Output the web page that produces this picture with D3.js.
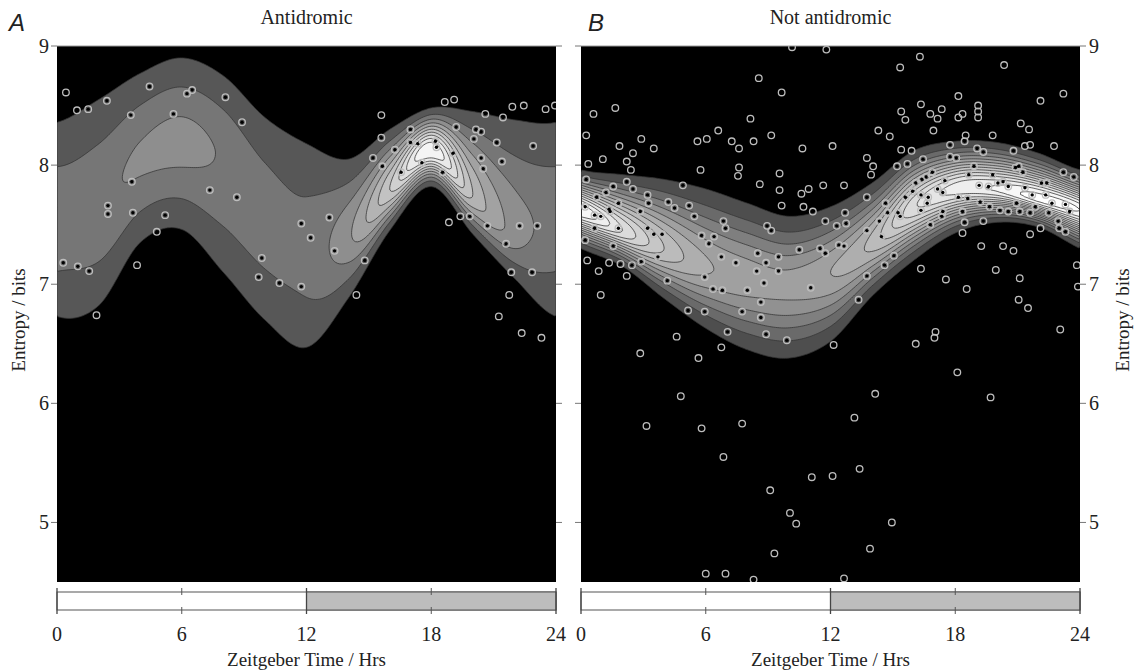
<!DOCTYPE html>
<html><head><meta charset="utf-8">
<script src="https://cdn.jsdelivr.net/npm/d3@7"></script>
<style>body{margin:0;background:#fff}svg{display:block}</style>
</head><body>
<svg id="c" width="1136" height="671"></svg>
<script>
// ---------- data ----------
const timeTicks = [0, 6, 12, 18, 24];
const entropyTicks = [5, 6, 7, 8, 9];
const panelTitles = ["Antidromic", "Not antidromic"];
const panelLetters = ["A", "B"];
// ridge knots every 2 h (0..22): peak entropy, upper/lower edge of lowest contour, peak height (contour levels)
const knotHours = [0, 2, 4, 6, 8, 10, 12, 14, 16, 18, 20, 22];
const peakA   = [7.55, 7.68, 8.05, 8.20, 8.05, 7.60, 7.30, 7.40, 7.80, 8.12, 7.75, 7.45];
const topA    = [8.36, 8.55, 8.77, 8.90, 8.75, 8.40, 8.18, 8.05, 8.30, 8.48, 8.45, 8.38];
const botA    = [6.73, 6.82, 7.35, 7.46, 7.10, 6.70, 6.47, 6.88, 7.45, 7.82, 7.42, 7.05];
const heightA = [2.66, 2.80, 3.15, 3.33, 2.92, 2.60, 2.50, 3.80, 7.00, 11.0, 6.00, 3.60];
const peakB   = [7.62, 7.45, 7.30, 7.15, 7.05, 7.00, 7.10, 7.35, 7.65, 7.80, 7.80, 7.72];
const topB    = [7.96, 7.92, 7.88, 7.80, 7.68, 7.57, 7.65, 7.85, 8.12, 8.20, 8.19, 8.10];
const botB    = [7.30, 7.15, 6.88, 6.63, 6.45, 6.38, 6.52, 6.90, 7.20, 7.43, 7.52, 7.48];
const heightB = [14.0, 11.0, 8.00, 6.20, 5.60, 5.40, 6.00, 7.40, 10.8, 12.5, 13.2, 14.5];
const levelsA = 11, levelsB = 14;

const pointsA = [[0.43,8.61],[0.96,8.46],[1.5,8.47],[2.4,8.54],[3.55,8.42],[4.45,8.66],[5.6,8.43],[6.25,8.6],[6.5,8.63],[8.1,8.57],[8.9,8.36],[3.6,7.86],[7.35,7.79],[8.65,7.73],
[0.3,7.18],[1.0,7.15],[1.55,7.11],[2.45,7.66],[2.45,7.59],[3.65,7.6],[3.85,7.16],[1.9,6.74],[4.8,7.44],[5.2,7.58],[9.85,7.22],[9.7,7.06],[10.7,7.01],[11.75,6.98],[11.75,7.51],[12.2,7.39],[13.1,7.56],[13.35,7.28],
[18.65,8.53],[15.6,8.42],[15.6,8.23],[15.2,8.06],[15.65,7.99],[16.25,8.13],[17.0,8.3],[17.0,8.19],[17.35,8.18],[16.55,7.94],[17.55,8.02],[18.2,8.2],[18.25,8.15],[18.55,7.94],[19.05,8.1],[19.2,8.32],[20.15,8.3],[20.4,8.28],[20.05,8.22],[20.4,8.06],[20.5,7.97],[21.15,8.19],[21.4,8.03],[20.6,8.43],[21.45,8.4],[21.9,8.49],[22.45,8.5],[23.5,8.47],[23.95,8.5],[22.9,8.16],[18.85,7.52],[19.4,7.57],[19.85,7.57],[20.7,7.49],[22.25,7.49],[23.1,7.49],[21.6,7.34],[21.85,7.1],[22.85,7.1],[21.75,6.91],[21.25,6.73],[22.35,6.59],[23.3,6.55],[14.4,6.91],[14.8,7.2],[19.1,8.55]];

const pointsB = [[10.15,8.99],[11.8,8.97],[8.55,8.73],[9.65,8.61],[1.65,8.48],[0.6,8.43],[8.15,8.39],[0.25,8.25],[2.9,8.22],[1.85,8.16],[2.5,8.1],[3.5,8.14],[6.6,8.29],[5.6,8.2],[6.05,8.22],[7.25,8.2],[8.3,8.2],[9.15,8.25],[7.6,8.14],[10.65,8.14],[12.1,8.16],[13.75,8.06],[1.05,8.05],[0.35,8.01],[2.2,8.03],[2.4,7.96],[5.75,7.96],[7.6,7.98],[7.55,7.91],[9.55,7.93],[8.6,7.84],[9.55,7.79],[10.6,7.76],[10.95,7.8],[11.65,7.83],[12.65,7.83],[4.9,7.83],[2.2,7.86],[2.5,7.8],[0.25,7.88],[1.55,7.82],[3.2,7.75],[3.25,7.68],[4.2,7.69],[4.5,7.64],[5.2,7.66],[5.45,7.57],[6.85,7.53],[9.65,7.66],[10.7,7.65],[11.15,7.61],[12.7,7.6],[11.75,7.53],[13.75,7.73],[0.75,7.73],[1.2,7.77],[1.8,7.68],[0.65,7.58],[0.95,7.57],[1.4,7.61],[2.85,7.61],
[6.95,7.47],[8.95,7.49],[9.15,7.45],[0.65,7.47],[3.2,7.47],[3.5,7.42],[3.9,7.42],[3.7,7.23],[5.8,7.41],[6.15,7.34],[6.4,7.4],[6.75,7.23],[5.95,7.06],[6.35,6.96],[6.8,6.95],[7.45,7.18],[8.0,6.95],[8.5,7.26],[8.9,7.18],[8.45,7.11],[8.8,7.01],[9.5,7.23],[9.5,7.11],[10.5,7.29],[11.05,6.97],
[0.3,7.2],[0.85,7.11],[1.35,7.18],[1.9,7.17],[2.45,7.16],[2.9,7.19],[2.2,7.07],[0.95,6.91],[4.15,7.03],[1.55,7.32],[0.2,7.37],[1.35,7.63],[1.8,7.47],[0.2,7.65],
[12.75,7.51],[12.3,7.49],[13.75,7.45],[11.5,7.3],[11.75,7.26],[12.4,7.33],[12.65,7.32],[13.75,7.07],[13.35,6.87],[5.15,6.78],[5.95,6.77],[7.75,6.77],[8.65,6.72],[8.65,6.85],[7.05,6.6],[8.9,6.58],[9.9,6.53],[4.6,6.56],[2.85,6.42],[5.65,6.38],[6.75,6.47],[12.15,6.49],[4.8,6.06],
[14.15,6.08],[19.7,6.05],[3.15,5.81],[5.8,5.79],[7.75,5.83],[13.15,5.88],[6.85,5.55],[13.4,5.45],[11.1,5.38],[12.1,5.39],[9.1,5.27],[10.05,5.08],[10.35,4.99],[14.95,5.0],[13.9,4.78],[9.3,4.74],[6.0,4.57],[6.95,4.57],[8.3,4.52],[12.65,4.53],
[16.3,8.91],[15.35,8.82],[20.35,8.84],[18.15,8.58],[23.2,8.6],[22.1,8.54],[16.35,8.51],[15.4,8.45],[16.8,8.43],[17.35,8.47],[15.6,8.38],[17.15,8.39],[18.15,8.4],[18.35,8.43],[19.1,8.5],[19.1,8.45],[19.1,8.4],[21.15,8.35],[21.55,8.3],[14.3,8.29],[14.85,8.24],[16.95,8.29],[18.5,8.25],[18.45,8.2],[19.8,8.25],[15.4,8.13],[15.9,8.12],[17.75,8.17],[20.8,8.12],[21.35,8.16],[21.6,8.17],[22.75,8.16],[14.05,7.99],[13.95,7.92],[15.2,7.99],[15.7,8.01],[16.45,8.05],[17.75,8.07],[18.05,8.06],[19.05,8.14],[19.35,8.11],[20.9,7.98],[21.05,7.99],[23.2,7.94],[23.7,7.9],
[16.1,7.85],[16.6,7.9],[16.9,7.94],[17.5,7.87],[18.65,7.92],[18.9,7.99],[19.8,7.92],[20.3,7.86],[20.55,7.82],[20.05,7.85],[19.6,7.82],[19.15,7.83],[21.25,7.94],[22.15,7.85],[22.4,7.85],[21.35,7.81],[21.7,7.75],[22.35,7.75],[23.3,7.67],[23.5,7.61],[22.65,7.68],[21.85,7.65],[20.95,7.68],[21.1,7.61],[20.15,7.62],[19.65,7.65],[19.2,7.69],[18.6,7.72],[18.15,7.73],[17.4,7.77],[17.15,7.8],[16.7,7.73],[16.35,7.75],[15.95,7.78],[15.6,7.73],[16.65,7.68],[16.35,7.62],[15.25,7.6],[15.35,7.57],[14.65,7.68],[14.35,7.53],[17.4,7.61],[17.35,7.57],[16.8,7.5],[18.35,7.61],[18.45,7.52],[18.35,7.43],[19.35,7.53],[20.55,7.61],[21.6,7.6],[22.5,7.6],[22.95,7.53],[23.0,7.47],[21.6,7.42],[22.1,7.47],[23.3,7.44],
[19.25,7.32],[20.3,7.32],[20.8,7.28],[23.85,7.16],[16.35,7.13],[19.95,7.12],[21.1,7.05],[17.55,7.04],[18.55,6.96],[23.9,6.98],[21.05,6.87],[21.5,6.8],[14.45,7.4],[14.75,7.6],[15.05,7.24],[14.6,7.16],[16.4,7.88],
[17.0,6.55],[17.05,6.6],[16.1,6.5],[18.1,6.26],[23.05,6.62]];

// ---------- layout ----------
const svg = d3.select("#c");
const plotTop = 46, plotBottom = 582;
const panels = [
  {x0: 57, x1: 556, peak: peakA, up: topA, lo: botA, h: heightA, N: levelsA, pts: pointsA, labelsLeft: true},
  {x0: 581, x1: 1080, peak: peakB, up: topB, lo: botB, h: heightB, N: levelsB, pts: pointsB, labelsLeft: false}
];
const serif = "'Liberation Serif','Times New Roman',serif";

function periodic(vals, t) {
  const n = vals.length, h = 24 / n;
  const u = (((t % 24) + 24) % 24) / h;
  const i = Math.floor(u), f = u - i;
  const p0 = vals[(i - 1 + n) % n], p1 = vals[i % n], p2 = vals[(i + 1) % n], p3 = vals[(i + 2) % n];
  return 0.5 * (2 * p1 + (-p0 + p2) * f + (2 * p0 - 5 * p1 + 4 * p2 - p3) * f * f + (-p0 + 3 * p1 - 3 * p2 + p3) * f * f * f);
}

panels.forEach((P, pi) => {
  const x = d3.scaleLinear().domain([0, 24]).range([P.x0, P.x1]);
  const y = d3.scaleLinear().domain([4.5, 9]).range([plotBottom, plotTop]);
  const g = svg.append("g");
  const clipId = "clip" + pi;
  svg.append("clipPath").attr("id", clipId).append("rect")
    .attr("x", P.x0).attr("y", plotTop).attr("width", P.x1 - P.x0).attr("height", plotBottom - plotTop);
  g.append("rect").attr("x", P.x0).attr("y", plotTop).attr("width", P.x1 - P.x0).attr("height", plotBottom - plotTop).attr("fill", "#000");

  // field grid
  const nx = 250, ny = 240;
  const values = new Float64Array(nx * ny);
  for (let i = 0; i < nx; i++) {
    const t = (i + 0.5) / nx * 24;
    const m = periodic(P.peak, t), a = Math.max(1.01, periodic(P.h, t));
    const k = Math.sqrt(2 * Math.log(a));
    const su = Math.max(0.03, (periodic(P.up, t) - m) / k);
    const sd = Math.max(0.03, (m - periodic(P.lo, t)) / k);
    for (let j = 0; j < ny; j++) {
      const v = 9 - (j + 0.5) / ny * 4.5;
      const s = v > m ? su : sd;
      values[j * nx + i] = a * Math.exp(-0.5 * ((v - m) / s) ** 2);
    }
  }
  const thresholds = d3.range(1, P.N + 1);
  const contours = d3.contours().size([nx, ny]).thresholds(thresholds)(values);
  const proj = d3.geoTransform({point: function(px, py) {
    this.stream.point(x(px / nx * 24), y(9 - py / ny * 4.5));
  }});
  const path = d3.geoPath(proj);
  const gray = k => { const c = Math.round(255 * Math.min(1, Math.pow(k / P.N, 0.45))); return d3.rgb(c, c, c).toString(); };
  const cg = g.append("g").attr("clip-path", `url(#${clipId})`);
  cg.selectAll("path.f").data(contours).join("path").attr("class", "f")
    .attr("d", path).attr("fill", d => gray(d.value)).attr("stroke", "none");
  cg.selectAll("path.l").data(contours).join("path").attr("class", "l")
    .attr("d", path).attr("fill", "none").attr("stroke", "#333").attr("stroke-width", 0.9).attr("stroke-opacity", 0.85);

  // points
  const pg = g.append("g").attr("clip-path", `url(#${clipId})`);
  pg.selectAll("circle.r").data(P.pts).join("circle").attr("class", "r")
    .attr("cx", d => x(d[0])).attr("cy", d => y(d[1])).attr("r", 3.3)
    .attr("fill", "none").attr("stroke", "#bdbdbd").attr("stroke-width", 1.3);
  pg.selectAll("circle.d").data(P.pts).join("circle").attr("class", "d")
    .attr("cx", d => x(d[0])).attr("cy", d => y(d[1])).attr("r", 1.7).attr("fill", "#000");

  // frame
  g.append("line").attr("x1", P.x0).attr("x2", P.x1).attr("y1", plotTop).attr("y2", plotTop).attr("stroke", "#9a9a9a");

  // y ticks both sides
  [[P.x0, -1], [P.x1, 1]].forEach(([xx, dir]) => {
    g.selectAll(null).data(entropyTicks).join("line")
      .attr("x1", xx).attr("x2", xx + dir * 6).attr("y1", d => y(d)).attr("y2", d => y(d))
      .attr("stroke", "#777").attr("stroke-width", 1);
  });
  const lx = P.labelsLeft ? P.x0 - 8 : P.x1 + 9;
  g.selectAll(null).data(entropyTicks).join("text")
    .attr("x", lx).attr("y", d => y(d)).attr("dy", "0.35em")
    .attr("text-anchor", P.labelsLeft ? "end" : "start")
    .attr("font-family", serif).attr("font-size", 20).attr("fill", "#222").text(d => d);
  const ylx = P.labelsLeft ? 18 : 1122;
  g.append("text").attr("transform", `translate(${ylx},${320}) rotate(-90)`)
    .attr("text-anchor", "middle").attr("dy", "0.35em")
    .attr("font-family", serif).attr("font-size", 19).attr("fill", "#222").text("Entropy / bits");

  // titles
  g.append("text").attr("x", (P.x0 + P.x1) / 2).attr("y", 24).attr("text-anchor", "middle")
    .attr("font-family", serif).attr("font-size", 20).attr("fill", "#222").text(panelTitles[pi]);
  g.append("text").attr("x", P.x0 - 48 + (pi ? 55 : 0)).attr("y", 31)
    .attr("font-family", "'Liberation Sans',Arial,sans-serif").attr("font-style", "italic")
    .attr("font-size", 24).attr("fill", "#222").text(panelLetters[pi]);

  // light/dark bar
  const by0 = 592, by1 = 610;
  g.append("rect").attr("x", x(0)).attr("y", by0).attr("width", x(24) - x(0)).attr("height", by1 - by0)
    .attr("fill", "#fff").attr("stroke", "#555").attr("stroke-width", 1);
  g.append("rect").attr("x", x(12)).attr("y", by0).attr("width", x(24) - x(12)).attr("height", by1 - by0)
    .attr("fill", "#bdbdbd").attr("stroke", "#555").attr("stroke-width", 1);
  timeTicks.forEach(tk => {
    if (tk % 12 === 0) {
      g.append("line").attr("x1", x(tk)).attr("x2", x(tk)).attr("y1", by0 - 4).attr("y2", by1 + 4).attr("stroke", "#444").attr("stroke-width", 1.3);
    } else {
      g.append("line").attr("x1", x(tk)).attr("x2", x(tk)).attr("y1", by0 - 4).attr("y2", by0 + 3).attr("stroke", "#555");
      g.append("line").attr("x1", x(tk)).attr("x2", x(tk)).attr("y1", by1 - 3).attr("y2", by1 + 4).attr("stroke", "#555");
    }
  });
  g.selectAll(null).data(timeTicks).join("text")
    .attr("x", d => x(d)).attr("y", 641).attr("text-anchor", "middle")
    .attr("font-family", serif).attr("font-size", 20).attr("fill", "#222").text(d => d);
  g.append("text").attr("x", (P.x0 + P.x1) / 2).attr("y", 666).attr("text-anchor", "middle")
    .attr("font-family", serif).attr("font-size", 19).attr("fill", "#222").text("Zeitgeber Time / Hrs");
});
</script>
</body></html>
